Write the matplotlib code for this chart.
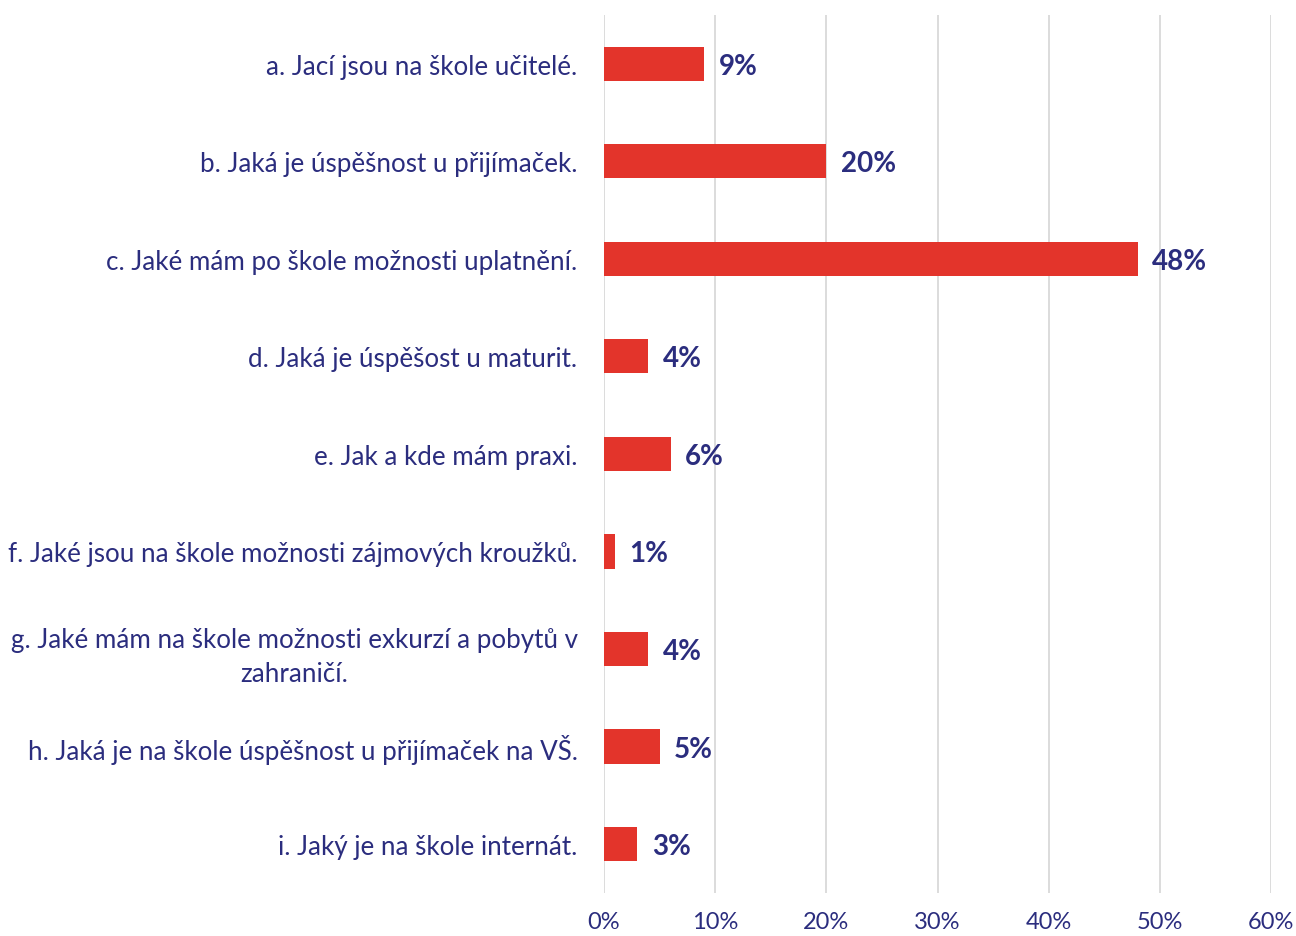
import matplotlib.pyplot as plt
import matplotlib.ticker as mticker

labels = [
    "a. Jací jsou na škole učitelé.",
    "b. Jaká je úspěšnost u přijímaček.",
    "c. Jaké mám po škole možnosti uplatnění.",
    "d. Jaká je úspěšost u maturit.",
    "e. Jak a kde mám praxi.",
    "f. Jaké jsou na škole možnosti zájmových kroužků.",
    "g. Jaké mám na škole možnosti exkurzí a pobytů v\nzahraničí.",
    "h. Jaká je na škole úspěšnost u přijímaček na VŠ.",
    "i. Jaký je na škole internát.",
]
values = [9, 20, 48, 4, 6, 1, 4, 5, 3]
xticks = [0, 10, 20, 30, 40, 50, 60]

RED = "#E3342B"
NAVY = "#2B2D7E"
GRID = "#D9D9D9"

plt.rcParams['font.family'] = ['Lato', 'DejaVu Sans']

fig = plt.figure(figsize=(12.96, 9.37), dpi=100)
ax = fig.add_axes([0.466, 0.046, 0.515, 0.937])

ypos = list(range(len(labels)))
ax.barh(ypos, values, height=0.35, color=RED, zorder=3)
for y, v in zip(ypos, values):
    ax.text(v + 1.3, y + 0.02, f"{v}%", va="center", ha="left", fontsize=20,
            fontweight="bold", color=NAVY)

ax.set_ylim(len(labels) - 0.5, -0.5)
ax.set_xlim(0, 60)
ax.set_xticks(xticks)
ax.xaxis.set_major_formatter(mticker.FuncFormatter(lambda x, _: f"{int(x)}%"))
ax.set_yticks(ypos)
ax.set_yticklabels(labels, multialignment="center", linespacing=1.45)
ax.tick_params(axis="y", length=0, pad=19, labelsize=18.7, labelcolor=NAVY)
ax.tick_params(axis="x", length=0, pad=13, labelsize=17, labelcolor=NAVY)
ax.grid(axis="x", color=GRID, linewidth=1.3, zorder=0)
for s in ax.spines.values():
    s.set_visible(False)

fig.savefig("out.png", dpi=100)
